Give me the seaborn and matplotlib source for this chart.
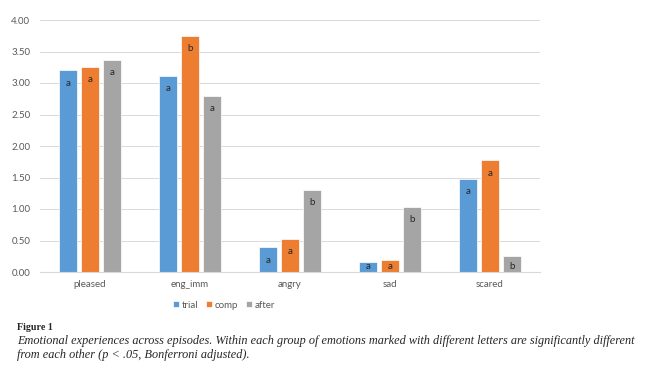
import matplotlib.pyplot as plt
import pandas as pd
import seaborn as sns

emotions = ['pleased', 'eng_imm', 'angry', 'sad', 'scared']
episodes = ['trial', 'comp', 'after']
trial = [3.20, 3.11, 0.39, 0.16, 1.48]
comp = [3.25, 3.75, 0.52, 0.19, 1.77]
after = [3.36, 2.79, 1.30, 1.03, 0.26]
letters_trial = ['a', 'a', 'a', 'a', 'a']
letters_comp = ['a', 'b', 'a', 'a', 'a']
letters_after = ['a', 'a', 'b', 'b', 'b']
yticks = [0, 0.5, 1, 1.5, 2, 2.5, 3, 3.5, 4]

rows = []
for ep, vals, lets in zip(episodes, [trial, comp, after],
                          [letters_trial, letters_comp, letters_after]):
    for emo, v, l in zip(emotions, vals, lets):
        rows.append({'emotion': emo, 'episode': ep, 'mean': v, 'letter': l})
df = pd.DataFrame(rows)

sns.set_theme(style='white')
plt.rcParams['font.family'] = ['Lato', 'DejaVu Sans']

palette = {'trial': '#5B9BD5', 'comp': '#ED7D31', 'after': '#A5A5A5'}
grey = '#595959'

fig = plt.figure(figsize=(6.53, 3.75), dpi=100)
ax = fig.add_axes([40 / 653, 1 - 272 / 375, 500 / 653, 252 / 375])

sns.barplot(data=df, x='emotion', y='mean', hue='episode', order=emotions,
            hue_order=episodes, palette=palette, width=0.66, gap=0.2,
            saturation=1, edgecolor='white', linewidth=0.5, ax=ax, legend=True)

ax.set_ylim(0, 4)
ax.set_xlim(-0.5, len(emotions) - 0.5)
ax.set_yticks(yticks)
ax.set_yticklabels([f'{t:.2f}' for t in yticks])
ax.set_xlabel('')
ax.set_ylabel('')
ax.yaxis.grid(True, color='#D9D9D9', linewidth=0.7)
ax.set_axisbelow(True)
for s in ['top', 'right', 'left']:
    ax.spines[s].set_visible(False)
ax.spines['bottom'].set_color('#D9D9D9')
ax.spines['bottom'].set_linewidth(0.8)
ax.tick_params(axis='both', length=0, labelsize=7, labelcolor=grey, pad=7)
ax.tick_params(axis='x', pad=6)

# significance letters inside the bars
for container, ep in zip(ax.containers, episodes):
    sub = df[df['episode'] == ep].set_index('emotion').loc[emotions]
    for bar, lt in zip(container, sub['letter']):
        h = bar.get_height()
        y = max(h - 0.2, 0.09)
        ax.text(bar.get_x() + bar.get_width() / 2, y, lt, ha='center',
                va='center', fontsize=7, color='#262626')

handles, labels = ax.get_legend_handles_labels()
ax.get_legend().remove()
fig.legend(handles, labels, loc='center', bbox_to_anchor=(224 / 653, 1 - 305 / 375),
           ncol=3, frameon=False, fontsize=7, labelcolor=grey,
           handlelength=0.6, handleheight=0.6, handletextpad=0.3,
           columnspacing=0.8)

serif = ['Liberation Serif', 'DejaVu Serif']
fig.text(17 / 653, 1 - 327 / 375, 'Figure 1', family=serif, fontweight='bold',
         fontsize=7.2, va='center', ha='left')
fig.text(17 / 653, 1 - 341 / 375,
         'Emotional experiences across episodes. Within each group of emotions marked '
         'with different letters are significantly different',
         family=serif, style='italic', fontsize=8.8, va='center', ha='left')
fig.text(17 / 653, 1 - 355 / 375,
         'from each other (p < .05, Bonferroni adjusted).',
         family=serif, style='italic', fontsize=8.8, va='center', ha='left')

fig.savefig('out.png', dpi=100)
